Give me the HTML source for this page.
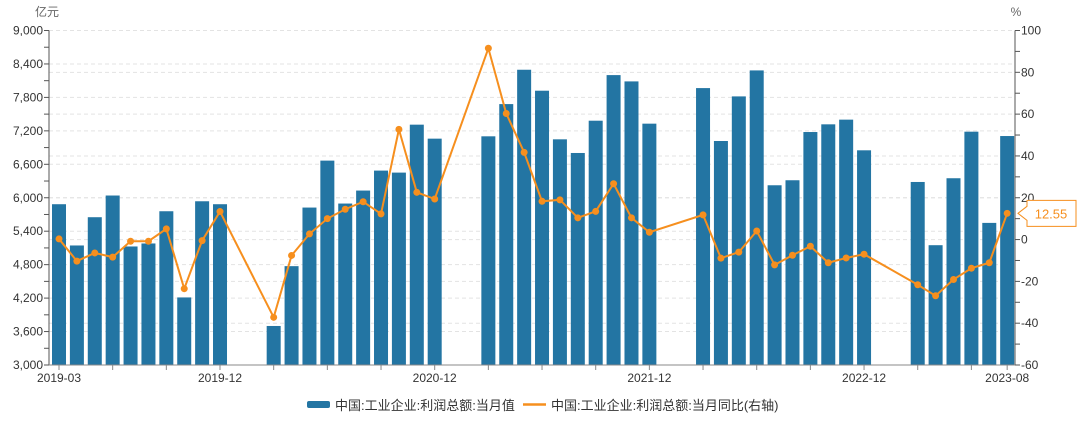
<!DOCTYPE html>
<html><head><meta charset="utf-8"><style>
html,body{margin:0;padding:0;background:#fff;}
svg text{font-family:"Liberation Sans","Noto Sans CJK SC",sans-serif;}
</style></head><body>
<svg id="chart" width="1080" height="416" xmlns="http://www.w3.org/2000/svg">
<g id="grid"></g>
<g id="bars"></g>
<g id="axes"></g>
<g id="line"></g>
<text x="47" y="16" font-size="12" fill="#666" text-anchor="middle">亿元</text>
<text x="1016" y="16" font-size="12" fill="#666" text-anchor="middle">%</text>
<g>
<g><rect x="307" y="401" width="23" height="7" rx="2" fill="#2375a3"/><text x="335" y="410" font-size="13" fill="#333">中国:工业企业:利润总额:当月值</text></g>
<g><line x1="523" y1="404.5" x2="546" y2="404.5" stroke="#f68f1e" stroke-width="2.5"/><text x="551" y="410" font-size="13" fill="#333">中国:工业企业:利润总额:当月同比(右轴)</text></g>
</g>
</svg>
<script>
const months=54;
const xLabels=["2019-03","2019-12","2020-12","2021-12","2022-12","2023-08"];
const xLabelIdx=[0,9,21,33,45,53];
const barValues=[5884,5144,5651,6040,5126,5180,5758,4212,5937,5884,null,null,3700,4773,5824,6666,5896,6129,6487,6451,7311,7060,null,null,7102,7680,8296,7920,7048,6803,7382,8200,8087,7329,null,null,7967,7018,7818,8284,6224,6314,7179,7317,7401,6851,null,null,6283,5149,6350,7185,5549,7107];
const yoyValues=[0.3,-10.3,-6.4,-8.4,-0.8,-0.8,5.1,-23.5,-0.5,13.4,null,null,-37.2,-7.6,2.7,10,14.5,18.1,12.3,52.7,22.6,19.4,null,null,91.5,60.3,41.7,18.3,19,10.4,13.5,26.7,10.4,3.5,null,null,11.8,-8.9,-6,4.1,-12.1,-7.5,-3.2,-11.1,-8.8,-7,null,null,-21.6,-26.9,-19.1,-13.7,-11.1,12.55];
const leftTicks=[3000,3600,4200,4800,5400,6000,6600,7200,7800,8400,9000];
const rightTicks=[-60,-40,-20,0,20,40,60,80,100];

const NS="http://www.w3.org/2000/svg";
const X0=49,X1=1015,TOP=30.5,BOT=365;
const xs=i=>59+i*17.89;
const yl=v=>BOT-(v-3000)/6000*(BOT-TOP);
const yr=v=>BOT-(v+60)/160*(BOT-TOP);
function mk(tag,attrs,parent){const e=document.createElementNS(NS,tag);for(const k in attrs)e.setAttribute(k,attrs[k]);parent.appendChild(e);return e;}
const grid=document.getElementById('grid'),bars=document.getElementById('bars'),axes=document.getElementById('axes'),line=document.getElementById('line');

leftTicks.forEach(v=>{if(v===3000)return;const g=mk('line',{x1:X0,x2:X1,y1:yl(v),y2:yl(v),stroke:'#e3e3e3','stroke-dasharray':'4,3'},grid);

});
rightTicks.forEach(v=>{if(v===-60)return;const g=mk('line',{x1:X0,x2:X1,y1:yr(v),y2:yr(v),stroke:'#e3e3e3','stroke-dasharray':'4,3'},grid);

});

barValues.forEach((v,i)=>{if(v==null)return;const r=mk('rect',{x:xs(i)-7,y:yl(v),width:14,height:BOT-yl(v),fill:'#2375a3'},bars);

});

// axes
mk('line',{x1:X0,x2:X0,y1:TOP,y2:BOT,stroke:'#555'},axes);
mk('line',{x1:X1,x2:X1,y1:TOP,y2:BOT,stroke:'#555'},axes);
mk('line',{x1:X0,x2:X1,y1:BOT,y2:BOT,stroke:'#888'},axes);
for(let v=3000;v<=9000;v+=300){mk('line',{x1:X0-5,x2:X0,y1:yl(v),y2:yl(v),stroke:'#555'},axes);}
for(let v=-60;v<=100;v+=10){mk('line',{x1:X1,x2:X1+5,y1:yr(v),y2:yr(v),stroke:'#555'},axes);}
leftTicks.forEach(v=>{const t=mk('text',{x:X0-6,y:yl(v)+4,'font-size':12,fill:'#333','text-anchor':'end'},axes);t.textContent=v.toLocaleString('en-US');

});
rightTicks.forEach(v=>{const t=mk('text',{x:X1+6,y:yr(v)+4,'font-size':12,fill:'#333'},axes);t.textContent=v;

});
for(let i=0;i<months;i++){if(i%3===0||i===months-1)mk('line',{x1:xs(i),x2:xs(i),y1:BOT,y2:BOT+5,stroke:'#888'},axes);}
xLabels.forEach((s,k)=>{const t=mk('text',{x:xs(xLabelIdx[k]),y:BOT+17,'font-size':12,fill:'#333','text-anchor':'middle'},axes);t.textContent=s;

});

// line
const pts=[];yoyValues.forEach((v,i)=>{if(v!=null)pts.push([xs(i),yr(v)]);});
const pl=mk('polyline',{points:pts.map(p=>p.join(',')).join(' '),fill:'none',stroke:'#f68f1e','stroke-width':2},line);


yoyValues.forEach((v,i)=>{if(v==null)return;const c=mk('circle',{cx:xs(i),cy:yr(v),r:3.5,fill:'#f68f1e'},line);

});
// callout
const lastV=yoyValues[months-1],cy=yr(lastV);
const cg=mk('g',{},line);


mk('path',{d:`M${X1+3},${cy} L${X1+12},${cy-7} L${X1+12},${cy-13} L1076,${cy-13} L1076,${cy+13} L${X1+12},${cy+13} L${X1+12},${cy+7} Z`,fill:'#fff',stroke:'#f68f1e','stroke-width':1},cg);
const ct=mk('text',{x:1051,y:cy+5,'font-size':13,fill:'#f68f1e','text-anchor':'middle'},cg);ct.textContent=lastV.toFixed(2);
</script>
</body></html>
